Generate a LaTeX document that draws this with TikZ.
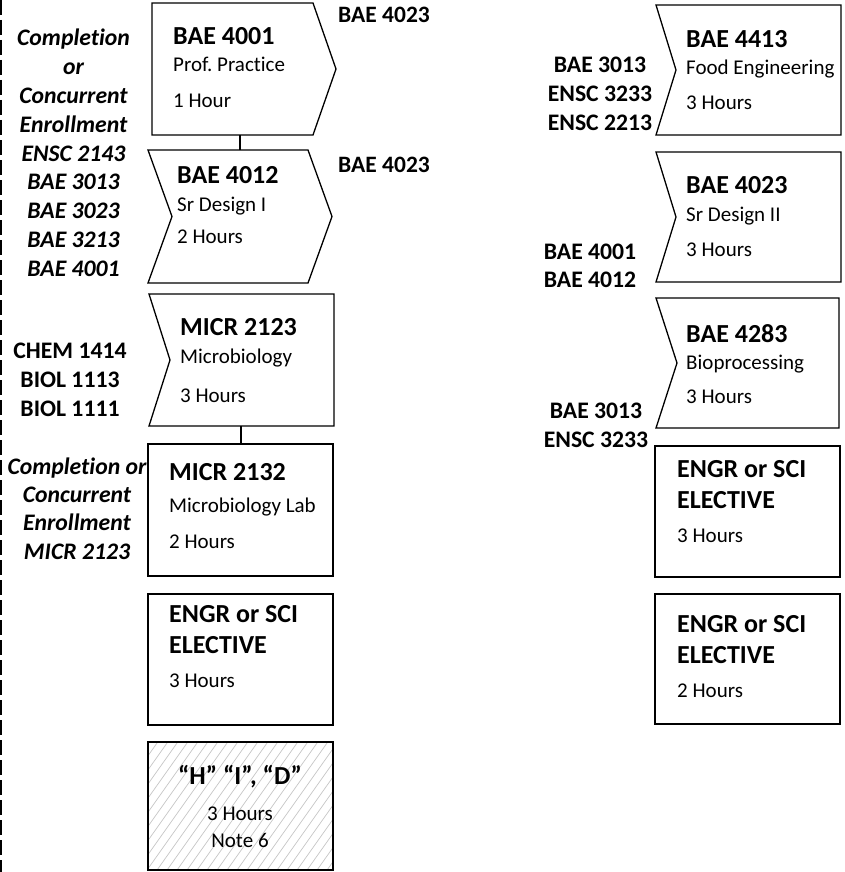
\documentclass[tikz,border=0pt]{standalone}
\usepackage{fontspec}
\setmainfont{Carlito}[Ligatures=NoCommon]
\newcommand{\crsshape}[7]{%
  \draw[boxline] (#2,#3) -- ({#4-#7},#3) -- (#4,{(#3+#5)/2}) -- ({#4-#7},#5) -- (#2,#5) -- ({#2+#6},{(#3+#5)/2}) -- cycle;
  \coordinate (#1-top) at ({(#2+#4-#7)/2},#3);
  \coordinate (#1-bot) at ({(#2+#4-#7)/2},#5);
}
\begin{document}
\frenchspacing
\begin{tikzpicture}[x=1pt,y=-1pt,
  boxline/.style={line width=1.3pt, line join=miter},
  ttl/.style={anchor=base west, inner sep=0, font=\fontsize{26}{30}\selectfont\bfseries},
  sub/.style={anchor=base west, inner sep=0, font=\fontsize{21}{25}\selectfont},
  ctr/.style={anchor=base, inner sep=0, font=\fontsize{21}{25}\selectfont},
  ctrttl/.style={anchor=base, inner sep=0, font=\fontsize{26}{30}\selectfont\bfseries},
  lbl/.style={anchor=base, inner sep=0, font=\fontsize{23.7}{28}\selectfont\bfseries},
  ilbl/.style={anchor=base, inner sep=0, font=\fontsize{23.7}{28}\selectfont\bfseries\itshape},
  rlbl/.style={anchor=base west, inner sep=0, font=\fontsize{23.5}{28}\selectfont\bfseries},
  conn/.style={line width=1.3pt}]
\useasboundingbox (0,0) rectangle (845,872);
% left dashed border
\draw[line width=1.6pt, dash pattern=on 15pt off 5pt] (1,0) -- (1,872);

% hatched box background
\begin{scope}
  \clip (148,742) rectangle (333,870);
  \foreach \i in {-120,-110,...,340} \draw[gray!45, line width=0.7pt] (\i,880) -- ++(170,-240);
\end{scope}

% left column shapes
\crsshape{b4001}{152}{3}{336}{135}{0}{23}
\crsshape{b4012}{148}{150}{332}{283}{24}{24}
\crsshape{m2123}{149}{294}{334}{426}{21}{0}
\crsshape{m2132}{148}{444}{333}{576}{0}{0}
\crsshape{elL}{148}{594}{333}{725}{0}{0}
\crsshape{hid}{148}{742}{333}{870}{0}{0}
% right column shapes
\crsshape{b4413}{656}{5}{841}{135}{20}{0}
\crsshape{b4023}{656}{152}{841}{282}{20}{0}
\crsshape{b4283}{656}{298}{839}{428}{21}{0}
\crsshape{elR1}{655}{446}{840}{577}{0}{0}
\crsshape{elR2}{655}{594}{840}{724}{0}{0}

% connectors
\coordinate (k1a) at (240,135); \coordinate (k1b) at (240,150);
\coordinate (k2a) at (241,426); \coordinate (k2b) at (241,444);
\draw[conn] (k1a) -- (k1b);
\draw[conn] (k2a) -- (k2b);

% box texts
\node[ttl] (t4001) at (173,45) {BAE 4001};
\node[sub] (s4001) at (173,72) {Prof. Practice};
\node[sub] (h4001) at (173,107) {1 Hour};
\node[ttl] (t4012) at (177,183) {BAE 4012};
\node[sub] (s4012) at (177,211) {Sr Design I};
\node[sub] (h4012) at (177,243) {2 Hours};
\node[ttl] (t2123) at (180,335) {MICR 2123};
\node[sub] (s2123) at (180,363) {Microbiology};
\node[sub] (h2123) at (180,402) {3 Hours};
\node[ttl] (t2132) at (169,480) {MICR 2132};
\node[sub] (s2132) at (169,512) {Microbiology Lab};
\node[sub] (h2132) at (169,548) {2 Hours};
\node[ttl] (telL) at (169,622) {ENGR or SCI};
\node[ttl] (selL) at (169,653) {ELECTIVE};
\node[sub] (helL) at (169,687) {3 Hours};
\node[ctrttl] (thid) at (240,784) {“H” “I”, “D”};
\node[ctr] (hhid) at (240,820) {3 Hours};
\node[ctr] (nhid) at (240,847) {Note 6};

\node[ttl] (t4413) at (686,48) {BAE 4413};
\node[sub] (s4413) at (686,75) {Food Engineering};
\node[sub] (h4413) at (686,110) {3 Hours};
\node[ttl] (t4023) at (686,193) {BAE 4023};
\node[sub] (s4023) at (686,221) {Sr Design II};
\node[sub] (h4023) at (686,256) {3 Hours};
\node[ttl] (t4283) at (686,342) {BAE 4283};
\node[sub] (s4283) at (686,369) {Bioprocessing};
\node[sub] (h4283) at (686,403) {3 Hours};
\node[ttl] (telR1) at (677,477) {ENGR or SCI};
\node[ttl] (selR1) at (677,508) {ELECTIVE};
\node[sub] (helR1) at (677,542) {3 Hours};
\node[ttl] (telR2) at (677,632) {ENGR or SCI};
\node[ttl] (selR2) at (677,663) {ELECTIVE};
\node[sub] (helR2) at (677,697) {2 Hours};

% side labels
\node[rlbl] (n4023a) at (338,23) {BAE 4023};
\node[rlbl] (n4023b) at (338,172) {BAE 4023};
\foreach \t [count=\k] in {Completion,or,Concurrent,Enrollment,ENSC 2143,BAE 3013,BAE 3023,BAE 3213,BAE 4001}
  \node[ilbl] (pa\k) at (73.5,{46+(\k-1)*28.75}) {\t};
\foreach \t [count=\k] in {CHEM 1414,BIOL 1113,BIOL 1111}
  \node[lbl] (pb\k) at (70,{358+(\k-1)*29}) {\t};
\foreach \t [count=\k] in {Completion or,Concurrent,Enrollment,MICR 2123}
  \node[ilbl] (pc\k) at (77,{474+(\k-1)*28.4}) {\t};
\foreach \t [count=\k] in {BAE 3013,ENSC 3233,ENSC 2213}
  \node[lbl] (pd\k) at (600,{73+(\k-1)*29}) {\t};
\foreach \t [count=\k] in {BAE 4001,BAE 4012}
  \node[lbl] (pe\k) at (590,{259+(\k-1)*28}) {\t};
\foreach \t [count=\k] in {BAE 3013,ENSC 3233}
  \node[lbl] (pf\k) at (596,{418+(\k-1)*29}) {\t};
\end{tikzpicture}
\end{document}
